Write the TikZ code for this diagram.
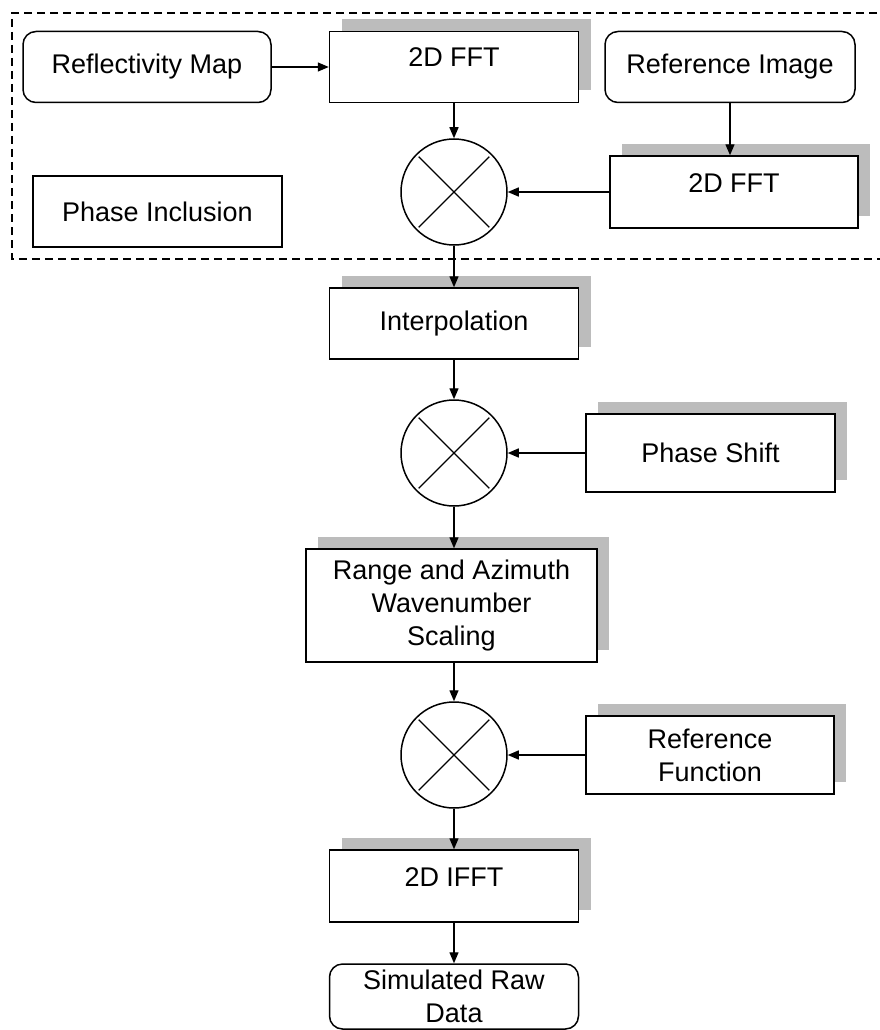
\documentclass[tikz,border=0pt]{standalone}
\usepackage{fontspec}
\setmainfont{Liberation Sans}
\usetikzlibrary{arrows.meta,shadows}
\definecolor{shadowgray}{RGB}{188,188,188}

\begin{document}
\begin{tikzpicture}[x=1pt, y=-1pt,
    every node/.style={font=\fontsize{27}{33}\selectfont, align=center, inner sep=0pt},
    block/.style={draw, line width=1.5pt, fill=white},
    startbox/.style={block, rounded corners=13pt},
    shadowed/.style={drop shadow={shadow xshift=12pt, shadow yshift=12pt, fill=shadowgray, opacity=1}},
    raised/.style={text height=20pt, text depth=20pt},
    mult/.style={draw, circle, line width=1.5pt, fill=white, minimum size=106pt},
    cross/.style={line width=1.3pt},
    flow/.style={-{Triangle[length=11pt,width=9pt]}, line width=1.4pt},
    frame/.style={dashed, dash pattern=on 8pt off 5pt, line width=1.2pt}
]

    % Page
    \useasboundingbox (0,0) rectangle (880,1030);
    \clip (0,0) rectangle (880,1030);

    % Phase inclusion frame
    \draw[frame] (890,13) -- (12,13) -- (12,259) -- (890,259);

    % Top row
    \node[startbox, minimum width=248pt, minimum height=71pt] (refmap) at (147,67) {Reflectivity Map};
    \node[block, shadowed, raised, minimum width=249pt, minimum height=71pt] (fftA) at (454,67) {2D FFT};
    \node[startbox, minimum width=250pt, minimum height=71pt] (refimg) at (730,67) {Reference Image};

    % Second row
    \node[block, minimum width=249pt, minimum height=71pt] (phaseinc) at (157.5,211.5) {Phase Inclusion};
    \node[mult] (mul1) at (454,192) {};
    \node[block, shadowed, raised, minimum width=248pt, minimum height=72pt] (fftB) at (734,192) {2D FFT};

    % Main column
    \node[block, shadowed, minimum width=249pt, minimum height=71pt] (interp) at (454,323.5) {Interpolation};
    \node[mult] (mul2) at (454,453) {};
    \node[block, shadowed, minimum width=249pt, minimum height=78pt] (pshift) at (710.5,453) {Phase Shift};
    \node[block, shadowed, minimum width=291pt, minimum height=113pt] (range) at (451.5,605.5)
        {Range and Azimuth\\Wavenumber\\Scaling};
    \node[mult] (mul3) at (454,755) {};
    \node[block, shadowed, minimum width=248pt, minimum height=78pt] (reffun) at (710,755) {Reference\\Function};
    \node[block, shadowed, raised, minimum width=249pt, minimum height=72pt] (ifft) at (454,886) {2D IFFT};
    \node[startbox, minimum width=249pt, minimum height=65pt] (simraw) at (454,996.5) {Simulated Raw\\Data};

    % Crosses in the multipliers
    \foreach \m in {mul1,mul2,mul3} {
        \draw[cross] (\m.center) +(45:50) -- +(225:50);
        \draw[cross] (\m.center) +(135:50) -- +(315:50);
    }

    % Connectors
    \draw[flow] (refmap) -- (fftA);
    \draw[flow] (fftA) -- (mul1);
    \draw[flow] (refimg.south) -- (refimg.south |- fftB.north);
    \draw[flow] (fftB) -- (mul1);
    \draw[flow] (mul1) -- (interp);
    \draw[flow] (interp) -- (mul2);
    \draw[flow] (pshift) -- (mul2);
    \draw[flow] (mul2) -- (mul2 |- range.north);
    \draw[flow] (mul3 |- range.south) -- (mul3);
    \draw[flow] (reffun) -- (mul3);
    \draw[flow] (mul3) -- (ifft);
    \draw[flow] (ifft) -- (simraw);

\end{tikzpicture}
\end{document}
